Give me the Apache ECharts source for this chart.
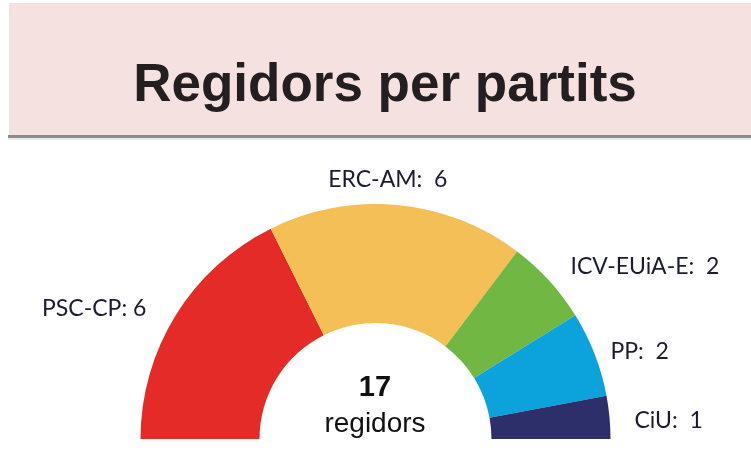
<!DOCTYPE html>
<html>
<head>
<meta charset="utf-8">
<title>Regidors per partits</title>
<script src="https://cdn.jsdelivr.net/npm/echarts@6/dist/echarts.min.js"></script>
<style>
  html, body { margin: 0; padding: 0; background: #ffffff; }
  #main { width: 751px; height: 465px; }
</style>
</head>
<body>
<div id="main"></div>
<script type="text/javascript">
var parties = ['PSC-CP', 'ERC-AM', 'ICV-EUiA-E', 'PP', 'CiU'];
var seats = [6, 6, 2, 2, 1];
var colors = ['#e52b27', '#f4bf57', '#70b843', '#0ca3dc', '#2c2f6a'];
var labelSep = [': ', ':  ', ':  ', ':  ', ':  '];

var total = 0;
for (var i = 0; i < seats.length; i++) total += seats[i];

var myChart = echarts.init(document.getElementById('main'));

var pieData = parties.map(function (name, i) {
  return {
    name: name,
    value: seats[i],
    itemStyle: { color: colors[i] }
  };
});

// small nudges so the labels sit where the original ones are
var labelNudge = [
  { dx: -9, dy: 3 },
  { dx: -16, dy: -8, align: 'center' },
  { dx: 3, dy: -2 },
  { dx: -6, dy: 4 },
  { dx: 2, dy: 5 }
];

var option = {
  backgroundColor: '#ffffff',
  animation: false,
  title: {
    text: 'Regidors per partits',
    left: 380,
    top: 55,
    textAlign: 'center',
    textStyle: {
      fontFamily: 'Liberation Sans',
      fontWeight: 'bold',
      fontSize: 53,
      color: '#231f20'
    }
  },
  graphic: [
    {
      type: 'rect',
      shape: { x: 9, y: 3, width: 742, height: 133 },
      style: { fill: '#f5e1df' },
      z: -1
    },
    {
      type: 'rect',
      shape: { x: 8, y: 135, width: 743, height: 3 },
      style: { fill: '#8a8a8a' },
      z: -1
    },
    {
      type: 'rect',
      shape: { x: 8, y: 138, width: 743, height: 2 },
      style: { fill: '#ececec' },
      z: -1
    },
    {
      type: 'text',
      x: 375,
      y: 388,
      style: {
        text: String(total),
        fontFamily: 'Liberation Sans',
        fontWeight: 'bold',
        fontSize: 29,
        fill: '#111111',
        align: 'center',
        verticalAlign: 'middle'
      }
    },
    {
      type: 'text',
      x: 375,
      y: 424,
      style: {
        text: 'regidors',
        fontFamily: 'Liberation Sans',
        fontSize: 28,
        fill: '#111111',
        align: 'center',
        verticalAlign: 'middle'
      }
    }
  ],
  series: [{
    type: 'pie',
    center: [375.5, 439],
    radius: [116, 235],
    startAngle: 180,
    endAngle: 0,
    clockwise: true,
    silent: true,
    label: {
      show: true,
      position: 'outside',
      formatter: function (p) { return p.name + labelSep[p.dataIndex] + p.value; },
      fontFamily: 'Lato',
      fontSize: 23,
      color: '#1c1c30'
    },
    labelLine: { show: false, length: 18, length2: 0 },
    labelLayout: function (p) {
      return labelNudge[p.dataIndex];
    },
    data: pieData
  }]
};

myChart.setOption(option);
</script>
</body>
</html>
